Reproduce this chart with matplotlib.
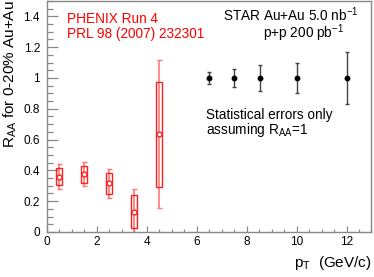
import numpy as np
import matplotlib
matplotlib.use("Agg")
import matplotlib.pyplot as plt
from matplotlib.patches import Rectangle
from matplotlib.ticker import MultipleLocator

plt.rcParams['font.family'] = ['Liberation Sans', 'DejaVu Sans']
plt.rcParams['mathtext.fontset'] = 'custom'
plt.rcParams['mathtext.rm'] = 'Liberation Sans'
plt.rcParams['mathtext.it'] = 'Liberation Sans'
plt.rcParams['mathtext.default'] = 'regular'

# PHENIX Run 4 points (red): value, stat error, systematic half-height
phx_pt = [0.5, 1.5, 2.5, 3.5, 4.5]
phx_raa = [0.36, 0.375, 0.315, 0.13, 0.635]
phx_stat = [0.082, 0.077, 0.095, 0.149, 0.479]
phx_sys = [0.058, 0.055, 0.067, 0.107, 0.341]

# STAR projection (black), assuming RAA = 1
star_pt = [6.5, 7.5, 8.55, 10.0, 12.0]
star_raa = [1.0, 1.0, 1.0, 1.0, 1.0]
star_err = [0.04, 0.056, 0.083, 0.097, 0.166]

gray = '#888888'

fig = plt.figure(figsize=(3.74, 2.77), dpi=100)
ax = fig.add_axes([0.1249, 0.1625, 0.8684, 0.834])

# systematic boxes
box_hw = 0.12
for x, y, s in zip(phx_pt, phx_raa, phx_sys):
    ax.add_patch(Rectangle((x - box_hw, y - s), 2 * box_hw, 2 * s,
                           fill=False, edgecolor='#ff2020', lw=1.0, zorder=3))

ax.errorbar(phx_pt, phx_raa, yerr=phx_stat, fmt='none', ecolor='#ff7878',
            elinewidth=1.2, capsize=1.8, capthick=1.0, zorder=2)
ax.plot(phx_pt, phx_raa, 'o', ms=3.5, mfc='white', mec='#ff2020', mew=1.0, zorder=4)

ax.errorbar(star_pt, star_raa, yerr=star_err, fmt='o', color='black', ms=3.2,
            ecolor='#444444', elinewidth=1.0, capsize=1.6, capthick=1.0, zorder=4)

ax.set_xlim(0, 13)
ax.set_ylim(0, 1.5)
ax.xaxis.set_major_locator(MultipleLocator(2))
ax.xaxis.set_minor_locator(MultipleLocator(0.5))
ax.yaxis.set_minor_locator(MultipleLocator(0.05))
ax.set_yticks([0, 0.2, 0.4, 0.6, 0.8, 1.0, 1.2, 1.4])
ax.set_yticklabels(['0', '0.2', '0.4', '0.6', '0.8', '1', '1.2', '1.4'])

for sp in ax.spines.values():
    sp.set_color(gray)
    sp.set_linewidth(1.0)
ax.tick_params(axis='both', which='both', direction='in', color=gray,
               width=0.9, labelsize=8.5, top=False, right=False)
ax.tick_params(axis='y', which='major', length=7.8, pad=4.8)
ax.tick_params(axis='y', which='minor', length=4.5)
ax.tick_params(axis='x', which='major', length=4.0, pad=3.2)
ax.tick_params(axis='x', which='minor', length=2.3)

ax.text(0.8, 1.355, 'PHENIX Run 4', color='red', fontsize=9.8, va='baseline')
ax.text(0.8, 1.26, 'PRL 98 (2007) 232301', color='red', fontsize=9.8, va='baseline')
ax.text(7.06, 1.37, 'STAR Au+Au 5.0 nb$^{-1}$', fontsize=9.8, va='baseline')
ax.text(8.66, 1.262, 'p+p 200 pb$^{-1}$', fontsize=9.8, va='baseline')
ax.text(6.37, 0.736, 'Statistical errors only', fontsize=9.8, va='baseline')
ax.text(6.37, 0.635, 'assuming R$_{AA}$=1', fontsize=9.8, va='baseline')

fig.text(10 / 374, 0.999, 'R$_{AA}$ for 0-20% Au+Au', rotation=90,
         ha='center', va='top', fontsize=11)
fig.text(372 / 374, (277 - 263) / 277, 'p$_{T}$  (GeV/c)', ha='right',
         va='center', fontsize=11)

fig.savefig('out.png', dpi=100)
